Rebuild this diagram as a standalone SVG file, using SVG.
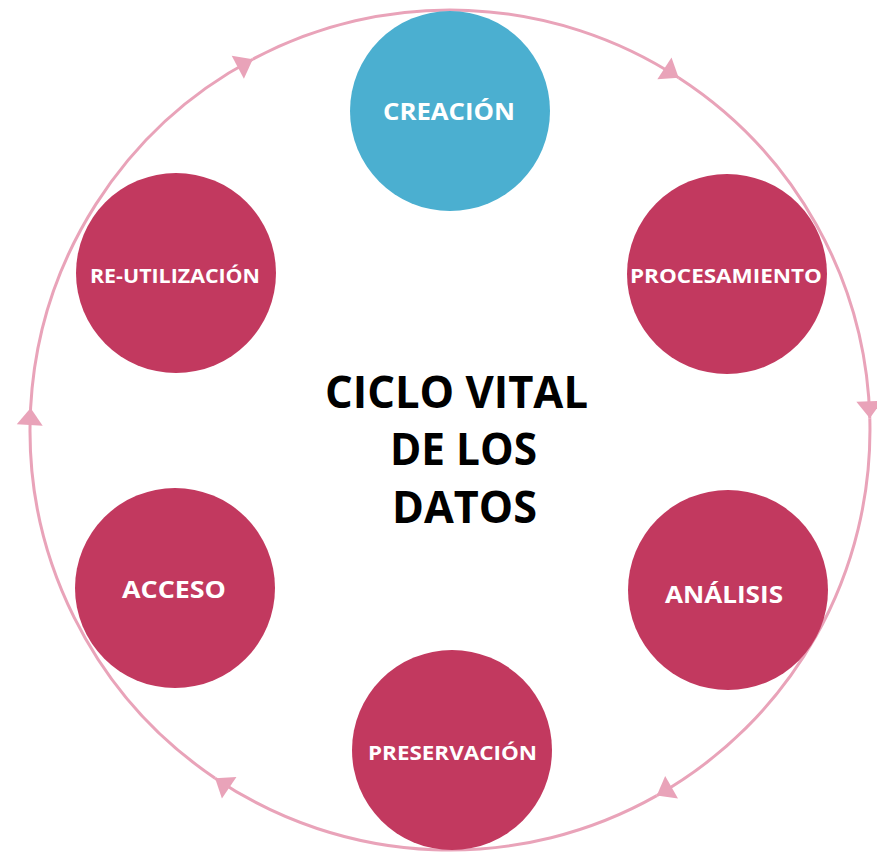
<svg xmlns="http://www.w3.org/2000/svg" width="877" height="853" viewBox="0 0 877 853">
<style>
.ring{fill:none;stroke:#e9a3b9;stroke-width:3;marker-end:url(#ah)}
.node{fill:#c2395f}
.blue{fill:#4bafd0}
.lbl{font-family:"Open Sans","Liberation Sans",sans-serif;font-weight:bold;fill:#ffffff}
.title{font-family:"Open Sans","Liberation Sans",sans-serif;font-weight:bold;fill:#000000;font-size:44px}
</style>
<defs>
<marker id="ah" markerUnits="userSpaceOnUse" viewBox="-18 -14 20 28" markerWidth="20" markerHeight="28" refX="0" refY="0" orient="auto">
<path d="M0,0 L-17,-13 L-17,13 Z" fill="#e9a3b9"/>
</marker>
</defs>
<rect width="877" height="853" fill="#ffffff"/>
<g id="connectors">
<path class="ring" d="M30.6,408 A420,420 0 0 1 252.8,59.2"/>
<path class="ring" d="M252.8,59.2 A420,420 0 0 1 678.7,77.7"/>
<path class="ring" d="M678.7,77.7 A420,420 0 0 1 869.8,418.3"/>
<path class="ring" d="M869.8,418.3 A420,420 0 0 1 656.8,795.6"/>
<path class="ring" d="M656.8,795.6 A420,420 0 0 1 215.1,778.2"/>
<path class="ring" d="M215.1,778.2 A420,420 0 0 1 30.6,408"/>
</g>
<g id="creacion">
<circle class="blue" cx="450" cy="111" r="100"/>
<text class="lbl" x="383" y="120" font-size="23" textLength="132" lengthAdjust="spacingAndGlyphs">CREACIÓN</text>
</g>
<g id="procesamiento">
<circle class="node" cx="727" cy="274" r="100"/>
<text class="lbl" x="630" y="283" font-size="20" textLength="192" lengthAdjust="spacingAndGlyphs">PROCESAMIENTO</text>
</g>
<g id="analisis">
<circle class="node" cx="728" cy="590" r="100"/>
<text class="lbl" x="665" y="603" font-size="24" textLength="118" lengthAdjust="spacingAndGlyphs">ANÁLISIS</text>
</g>
<g id="preservacion">
<circle class="node" cx="452" cy="750" r="100"/>
<text class="lbl" x="368" y="760" font-size="20" textLength="169" lengthAdjust="spacingAndGlyphs">PRESERVACIÓN</text>
</g>
<g id="acceso">
<circle class="node" cx="175" cy="588" r="100"/>
<text class="lbl" x="122" y="598" font-size="24" textLength="104" lengthAdjust="spacingAndGlyphs">ACCESO</text>
</g>
<g id="reutilizacion">
<circle class="node" cx="176" cy="273" r="100"/>
<text class="lbl" x="90" y="283" font-size="20" textLength="170" lengthAdjust="spacingAndGlyphs">RE-UTILIZACIÓN</text>
</g>
<g id="centro">
<text class="title" x="325" y="408" textLength="263" lengthAdjust="spacingAndGlyphs">CICLO VITAL</text>
<text class="title" x="390" y="465" textLength="147" lengthAdjust="spacingAndGlyphs">DE LOS</text>
<text class="title" x="392" y="523" textLength="145" lengthAdjust="spacingAndGlyphs">DATOS</text>
</g>
</svg>
